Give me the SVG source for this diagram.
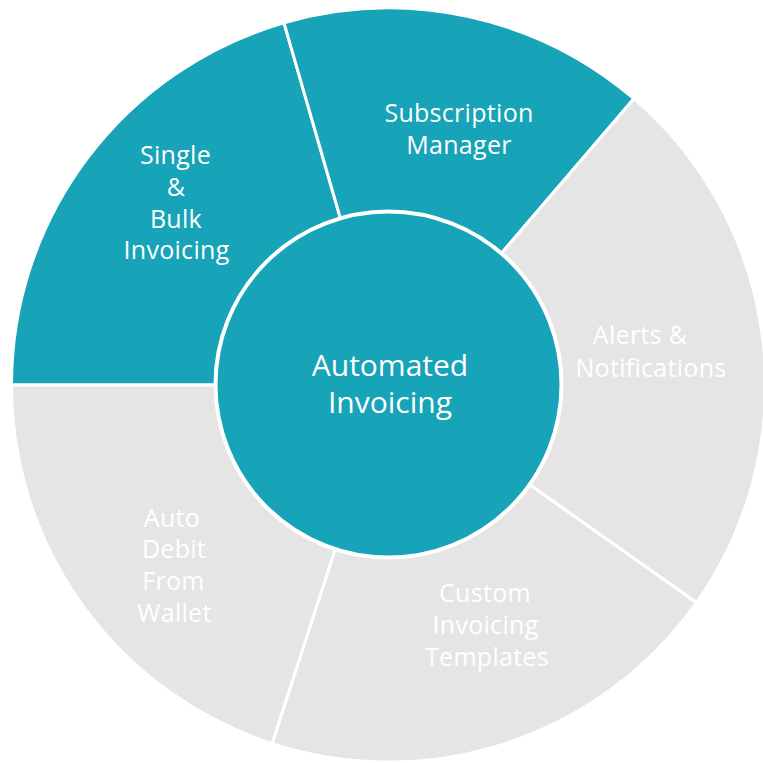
<svg xmlns="http://www.w3.org/2000/svg" width="763" height="763" viewBox="0 0 763 763">
<style>
.seg{stroke:#ffffff;stroke-width:3;stroke-linejoin:miter}
.teal{fill:#17a3b8}
.gray{fill:#e5e5e5}
.lbl{font-family:"Open Sans","Liberation Sans",sans-serif;font-size:25px;fill:#ffffff;text-anchor:middle;letter-spacing:0.3px}
.ctr{font-family:"Open Sans","Liberation Sans",sans-serif;font-size:30px;fill:#ffffff;text-anchor:middle}
</style>
<rect width="763" height="763" fill="#ffffff"/>
<g id="single-bulk-invoicing">
<path class="seg teal" d="M388.5,385 L11.5,385 A377,377 0 0 1 284,22.8 Z"/>
<text class="lbl"><tspan x="175.5" y="164">Single</tspan><tspan x="176" y="196">&amp;</tspan><tspan x="176" y="228">Bulk</tspan><tspan x="176.5" y="259">Invoicing</tspan></text>
</g>
<g id="subscription-manager">
<path class="seg teal" d="M388.5,385 L284,22.8 A377,377 0 0 1 633.9,98.7 Z"/>
<text class="lbl"><tspan x="459" y="122">Subscription</tspan><tspan x="459" y="154">Manager</tspan></text>
</g>
<g id="alerts-notifications">
<path class="seg gray" d="M388.5,385 L633.9,98.7 A377,377 0 0 1 696.4,602.6 Z"/>
<text class="lbl"><tspan x="640" y="344">Alerts &amp;</tspan><tspan x="651" y="377">Notifications</tspan></text>
</g>
<g id="custom-invoicing-templates">
<path class="seg gray" d="M388.5,385 L696.4,602.6 A377,377 0 0 1 272,743.6 Z"/>
<text class="lbl"><tspan x="485" y="602">Custom</tspan><tspan x="485.5" y="634">Invoicing</tspan><tspan x="487" y="666">Templates</tspan></text>
</g>
<g id="auto-debit-from-wallet">
<path class="seg gray" d="M388.5,385 L272,743.6 A377,377 0 0 1 11.5,385 Z"/>
<text class="lbl"><tspan x="172" y="527">Auto</tspan><tspan x="174" y="558">Debit</tspan><tspan x="173.5" y="590">From</tspan><tspan x="174.5" y="622">Wallet</tspan></text>
</g>
<g id="connectors"></g>
<g id="automated-invoicing">
<circle cx="388.5" cy="384.5" r="173" fill="#17a3b8" stroke="#ffffff" stroke-width="4"/>
<text class="ctr"><tspan x="390" y="376">Automated</tspan><tspan x="390" y="413">Invoicing</tspan></text>
</g>
</svg>
